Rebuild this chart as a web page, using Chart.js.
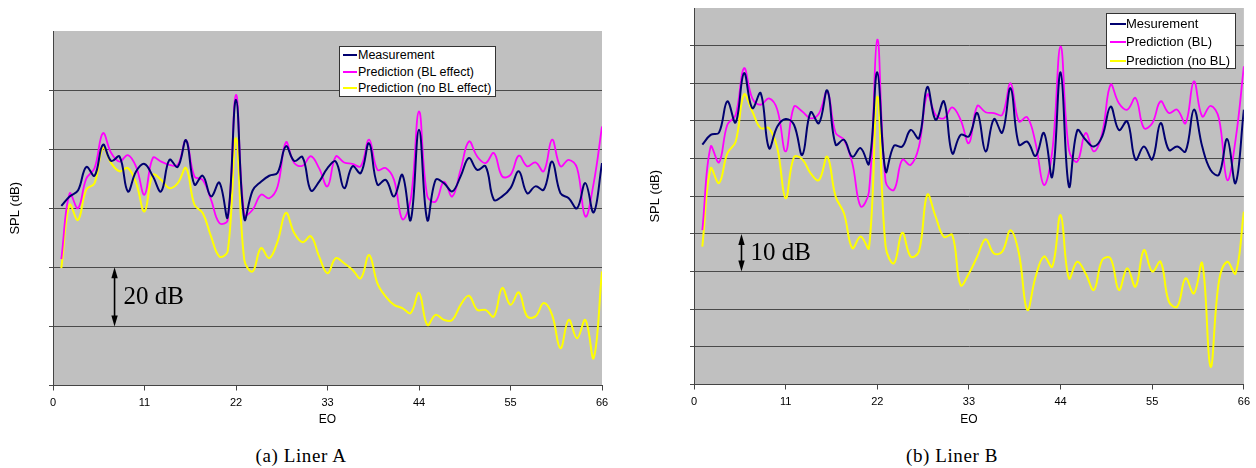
<!DOCTYPE html>
<html>
<head>
<meta charset="utf-8">
<script src="https://cdn.jsdelivr.net/npm/chart.js@4/dist/chart.umd.min.js"></script>
<style>
  body { margin: 0; background: #fff; width: 1256px; height: 468px; position: relative; overflow: hidden; }
  canvas { position: absolute; top: 0; }
  .legend { position: absolute; background: #fff; border: 1px solid #333; font-family: "Liberation Sans", Arial, sans-serif; color: #000; box-sizing: border-box; }
  .legend div { position: relative; white-space: nowrap; }
  .legend span { position: absolute; left: 3px; top: 50%; height: 2px; margin-top: -1px; }
  .caption { position: absolute; top: 445px; width: 200px; text-align: center; font-family: "Liberation Serif", "DejaVu Serif", serif; font-size: 19px; letter-spacing: 0.6px; color: #000; }
</style>
</head>
<body>
<canvas id="chartA" width="620" height="430" style="left:0"></canvas>
<canvas id="chartB" width="616" height="430" style="left:640px"></canvas>

<div class="legend" id="legendA" style="left:339px; top:46px; width:157px; height:51px; font-size:12.5px; line-height:16.5px;"></div>
<div class="legend" id="legendB" style="left:1106px; top:13px; width:130px; height:56px; font-size:13px; line-height:18.3px; padding-top:1px;"></div>

<div class="caption" style="left:201px">(a) Liner A</div>
<div class="caption" style="left:852px">(b) Liner B</div>

<script>
const eo = [1, 2, 3, 4, 5, 6, 7, 8, 9, 10, 11, 12, 13, 14, 15, 16, 17, 18, 19, 20, 21, 22,
  23, 24, 25, 26, 27, 28, 29, 30, 31, 32, 33, 34, 35, 36, 37, 38, 39, 40, 41, 42, 43, 44,
  45, 46, 47, 48, 49, 50, 51, 52, 53, 54, 55, 56, 57, 58, 59, 60, 61, 62, 63, 64, 65, 66];
const eoTicks = [0, 11, 22, 33, 44, 55, 66];

// Liner A (20 dB per grid line)
const linerAMeas = [60.8, 64, 66, 74, 71, 81.5, 76, 77.5, 65.7, 72.5, 75, 70.8, 65.7, 76.4, 74, 83,
  68, 71, 64, 68.7, 57, 96.7, 56.3, 66, 69, 71, 72, 81, 76, 77.3, 66, 69, 73.6, 75.8, 66.8, 74.2,
  71.9, 82, 68, 69.6, 64, 71.3, 56, 86.6, 56, 69.6, 68.5, 65.7, 70.8, 77, 73, 74.2, 62.9, 64,
  66.8, 72.5, 65.1, 67.4, 66.3, 75.8, 65.1, 63.4, 60, 68.5, 58.6, 75.3];
const linerABl = [42.8, 65, 60, 70, 73.6, 85.4, 78.7, 75.8, 78, 74, 64.6, 77, 75.8, 74.7, 74.7, 83,
  70.8, 69.6, 62.9, 55, 56, 98.4, 57.8, 59.5, 64.6, 63.4, 67.4, 82.3, 75.3, 74.4, 77.6, 73.5, 67.4,
  77.5, 75.5, 75, 74.2, 83.2, 73, 73.6, 69.6, 56.3, 62.9, 92.8, 64, 62.3, 69, 64, 73, 82.6, 77.5,
  75.3, 78.7, 70.8, 71.3, 77.8, 74.2, 75.5, 72.5, 83.2, 74.2, 76.4, 73.6, 57.2, 68.5, 87.7];
const linerANoBl = [39.7, 61.2, 56, 66.3, 68.5, 80.4, 75.3, 72.5, 73.6, 68.5, 58.9, 71.3, 69.6, 66.8,
  68.5, 73.6, 61.2, 58.4, 50.5, 43.7, 45.4, 83.7, 42.5, 38.6, 46.5, 43.1, 48.8, 58.4, 51.6, 48.5,
  50.5, 43.6, 38, 43.1, 41.4, 39.2, 36.3, 44.2, 34.6, 30.1, 27.3, 26.2, 24.5, 31.3, 20.5, 23.9, 22.2,
  22.2, 27.3, 30.4, 25.6, 25.6, 23.4, 33, 27.3, 31.5, 23.4, 23.4, 27.9, 23.9, 12.6, 22.2, 16, 22.2,
  9.3, 38.6];

// Liner B (10 dB per grid line)
const linerBMeas = [63.7, 66.3, 66.9, 75.2, 69.6, 82.7, 73.4, 77.4, 62.8, 68.5, 70.5, 69, 61, 72.3,
  69.4, 78.1, 63.7, 65, 60.5, 62.8, 58.6, 82.9, 56.6, 63.4, 63.2, 67.6, 65.4, 79, 70.3, 75.2, 61.4,
  66.3, 65.9, 72.1, 61.9, 70.5, 66.9, 78.7, 63.7, 64.5, 60.7, 66.8, 55.2, 82.9, 52.6, 67.5, 65,
  63.2, 65.9, 73.8, 67.6, 69.9, 59.7, 63.2, 59.8, 69.4, 62.3, 63.2, 61.9, 73, 63.2, 57, 55.7, 65.2,
  53.5, 73];
const linerBBl = [41, 63.2, 59, 69, 71.6, 84, 76, 74.3, 76, 73, 61.9, 73.8, 72.5, 70.7, 72, 77.8, 66.8,
  65, 58.8, 47.3, 51.2, 91.6, 53.9, 51.7, 59.7, 58.3, 63.2, 77, 71.6, 70.7, 73.6, 70.3, 64.1, 74,
  72.3, 72.1, 71.6, 80, 69.9, 71, 64.1, 53, 61.9, 89.8, 62.3, 59.2, 66.8, 61.9, 66.8, 79.6, 74.7, 73,
  76.1, 68.1, 69.4, 75.2, 72.1, 73, 69.4, 80.5, 71.2, 74, 70.7, 54.3, 65, 84.5];
const linerBNoBl = [36.6, 57.4, 53.5, 61.4, 64.5, 77, 72.5, 68.1, 68.1, 62.8, 49.5, 60.4, 59.8, 56.1,
  54.3, 60.5, 49.9, 45.5, 36.2, 39.3, 36.2, 76.5, 36.6, 32.2, 40.3, 34, 35.3, 50.4, 44.6, 39.2, 39.7,
  26.4, 29.5, 34, 38.6, 34.8, 35.3, 41, 34.8, 19.8, 28.6, 34, 31.3, 45, 28.2, 32.6, 29.5, 25.1, 33.1,
  33.5, 25.1, 30.9, 26, 35.7, 30, 32.6, 22, 20.7, 28.2, 24.2, 32.2, 4.7, 27.3, 32.6, 29.5, 45.9];

const seriesColors = ['#000070', '#ff00ff', '#ffff00'];
const legendANames = ['Measurement', 'Prediction (BL effect)', 'Prediction (no BL effect)'];
const legendBNames = ['Mesurement', 'Prediction (BL)', 'Prediction (no BL)'];

function toPoints(values) {
    return eo.map((x, i) => ({ x, y: values[i] }));
}

const plotBackground = {
    id: 'plotBackground',
    beforeDraw(chart) {
        const { ctx, chartArea: a } = chart;
        ctx.save();
        ctx.fillStyle = '#c0c0c0';
        ctx.fillRect(a.left, a.top, a.right - a.left, a.bottom - a.top);
        ctx.restore();
    },
};

// double-headed arrow spanning one grid step, with its label
const stepMarker = {
    id: 'stepMarker',
    afterDraw(chart, args, opts) {
        const { ctx, scales } = chart;
        const x = scales.x.getPixelForValue(opts.at);
        const y0 = scales.y.getPixelForValue(opts.from);
        const y1 = scales.y.getPixelForValue(opts.to);
        ctx.save();
        ctx.strokeStyle = '#000';
        ctx.fillStyle = '#000';
        ctx.lineWidth = 1.6;
        ctx.beginPath();
        ctx.moveTo(x, y0 - 6);
        ctx.lineTo(x, y1 + 6);
        ctx.stroke();
        [[y0, -1], [y1, 1]].forEach(([tip, dir]) => {
            ctx.beginPath();
            ctx.moveTo(x, tip);
            ctx.lineTo(x - 3.2, tip + dir * 11);
            ctx.lineTo(x + 3.2, tip + dir * 11);
            ctx.closePath();
            ctx.fill();
        });
        ctx.font = '25px "Liberation Serif", "Times New Roman", serif';
        ctx.textBaseline = 'middle';
        ctx.fillText(opts.label, x + 9, (y0 + y1) / 2 + 1);
        ctx.restore();
    },
};

function buildChart(canvasId, cfg) {
    const tickFont = { family: '"Liberation Sans", Arial, sans-serif', size: 11 };
    return new Chart(document.getElementById(canvasId), {
        type: 'line',
        data: {
            datasets: cfg.series.map((values, i) => ({
                label: cfg.names[i],
                data: toPoints(values),
                borderColor: seriesColors[i],
                borderWidth: i === 1 ? 1.8 : 2,
                pointRadius: 0,
                tension: 0.4,
                fill: false,
            })),
        },
        options: {
            responsive: false,
            animation: false,
            layout: { padding: cfg.padding },
            plugins: {
                legend: { display: false },
                tooltip: { enabled: false },
                stepMarker: cfg.marker,
            },
            scales: {
                x: {
                    type: 'linear',
                    min: 0,
                    max: 66,
                    afterBuildTicks: (scale) => { scale.ticks = eoTicks.map((v) => ({ value: v })); },
                    afterFit: (scale) => { scale.height = cfg.xHeight; },
                    ticks: { color: '#000', font: tickFont, padding: 6, maxRotation: 0 },
                    grid: { drawOnChartArea: false, drawTicks: true, tickLength: 5, color: '#444' },
                    border: { color: '#444', width: 1 },
                    title: { display: true, text: 'EO', color: '#000', font: { ...tickFont, size: 12 }, padding: { top: 0, bottom: 3 } },
                },
                y: {
                    min: 0,
                    max: cfg.yMax,
                    afterFit: (scale) => { scale.width = cfg.yWidth; },
                    ticks: { stepSize: cfg.yStep, display: false },
                    grid: {
                        drawTicks: true,
                        tickLength: 4,
                        color: (c) => (c.tick && c.tick.value === cfg.yMax ? 'rgba(0,0,0,0)' : '#4a4a4a'),
                    },
                    border: { color: '#444', width: 1 },
                    title: { display: true, text: 'SPL (dB)', color: '#000', font: { ...tickFont, size: 13 }, padding: { top: 8, bottom: 0 } },
                },
            },
        },
        plugins: [plotBackground, stepMarker],
    });
}

function buildLegend(id, names) {
    const box = document.getElementById(id);
    names.forEach((name, i) => {
        const row = document.createElement('div');
        row.style.paddingLeft = (id === 'legendA' ? 18 : 19) + 'px';
        row.textContent = name;
        const swatch = document.createElement('span');
        swatch.style.width = (id === 'legendA' ? 14 : 16) + 'px';
        swatch.style.background = seriesColors[i];
        row.appendChild(swatch);
        box.appendChild(row);
    });
}

buildChart('chartA', {
    series: [linerAMeas, linerABl, linerANoBl],
    names: legendANames,
    yMax: 120,
    yStep: 20,
    yWidth: 53,
    xHeight: 44.5,
    padding: { top: 31, right: 18, bottom: 0, left: 0 },
    marker: { at: 7.4, from: 20, to: 40, label: '20 dB' },
});

buildChart('chartB', {
    series: [linerBMeas, linerBBl, linerBNoBl],
    names: legendBNames,
    yMax: 100,
    yStep: 10,
    yWidth: 54,
    xHeight: 45.5,
    padding: { top: 8, right: 10, bottom: 0, left: 0 },
    marker: { at: 5.7, from: 30, to: 40, label: '10 dB' },
});

buildLegend('legendA', legendANames);
buildLegend('legendB', legendBNames);
</script>
</body>
</html>
